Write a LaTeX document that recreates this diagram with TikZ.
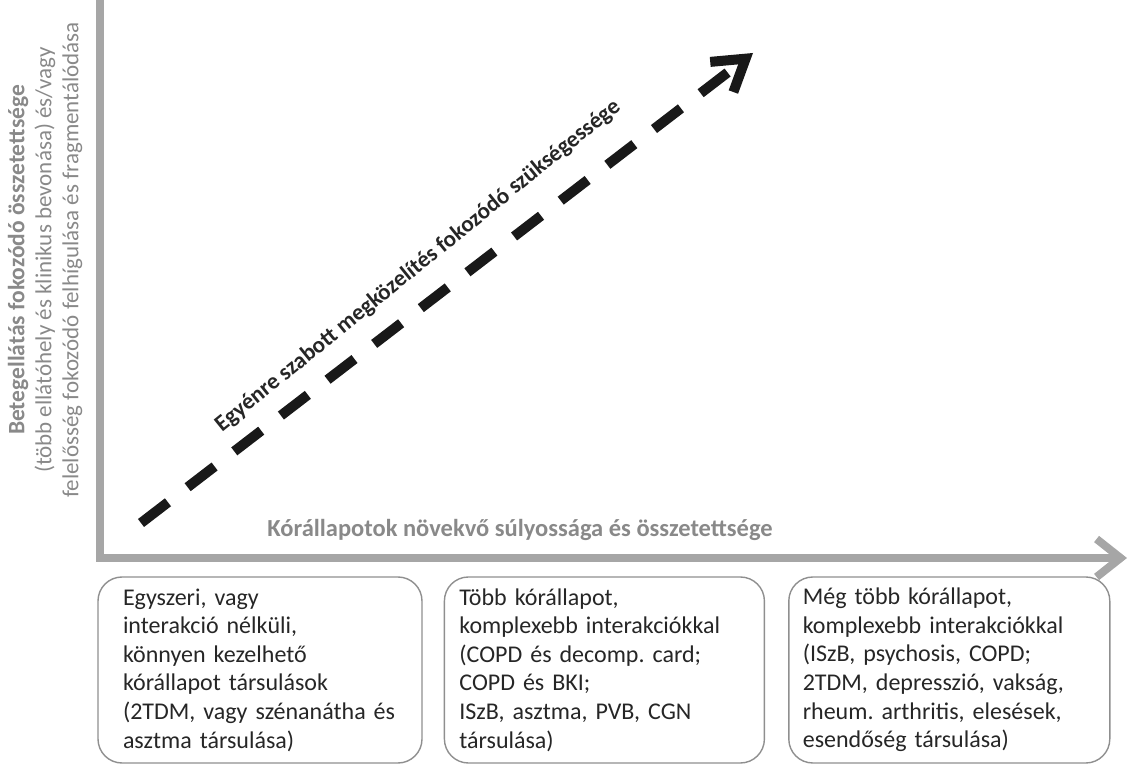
\documentclass[tikz,border=0pt]{standalone}
\usepackage{fontspec}
\setmainfont{Carlito}
\usepackage{xcolor}
\usetikzlibrary{positioning,arrows.meta}
\definecolor{axisgray}{HTML}{A6A6A6}
\definecolor{labelgray}{HTML}{898989}
\definecolor{boxgray}{HTML}{8F8F8F}
\definecolor{textdark}{HTML}{262626}
\frenchspacing

\begin{document}
\begin{tikzpicture}[x=1pt, y=-1pt,
    ill box/.style={rectangle, draw=boxgray, line width=1.4pt, rounded corners=24pt, inner sep=0pt,
        minimum height=186pt, align=left, text=textdark, font=\fontsize{24}{28.6}\selectfont},
    axis line/.style={draw=axisgray, line width=8pt, -{Straight Barb[length=24pt, width=38pt]}},
    trend arrow/.style={draw=black!90, line width=10pt, dash pattern=on 34pt off 24.8pt,
        -{Straight Barb[length=30pt, width=38pt]}},
    axis label/.style={text=labelgray, font=\fontsize{23}{27}\selectfont, align=center}]

    \useasboundingbox (0,0) rectangle (1128,767);

    % axes
    \coordinate (ytop) at (100,0);
    \coordinate (xend) at (1127,558);
    \draw [axis line] (ytop) |- (xend);

    \node [axis label, rotate=90] (ylabel) at (45,260)
        {{\bfseries\fontsize{23.5}{27}\selectfont Betegellátás fokozódó összetettsége}\\
         (több ellátóhely és klinikus bevonása) és/vagy\\
         felelősség fokozódó felhígulása és fragmentálódása};
    \node [axis label, font=\bfseries\fontsize{24.5}{28}\selectfont] (xlabel) at (520,530)
        {Kórállapotok növekvő súlyossága és összetettsége};

    % trend
    \coordinate (tstart) at (141,523);
    \coordinate (tend) at (753,53);
    \draw [trend arrow] (tstart) -- (tend);
    \node [rotate=39, text=textdark, font=\bfseries\fontsize{23}{27}\selectfont] (trend) at (418,266)
        {Egyénre szabott megközelítés fokozódó szükségessége};

    % boxes
    \node [ill box, minimum width=324pt, text width=274pt] (simple) at (260,670)
        {Egyszeri, vagy\\interakció nélküli,\\könnyen kezelhető\\kórállapot társulások\\(2TDM, vagy szénanátha és\\asztma társulása)};
    \node [ill box, minimum width=320pt, text width=290pt, right=21pt of simple] (complex)
        {Több kórállapot,\\komplexebb interakciókkal\\(COPD és decomp. card;\\COPD és BKI;\\ISzB, asztma, PVB, CGN\\társulása)};
    \node [ill box, minimum width=321pt, text width=293pt, right=23pt of complex] (morecomplex)
        {Még több kórállapot,\\komplexebb interakciókkal\\(ISzB, psychosis, COPD;\\2TDM, depresszió, vakság,\\rheum. arthritis, elesések,\\esendőség társulása)};
\end{tikzpicture}
\end{document}
